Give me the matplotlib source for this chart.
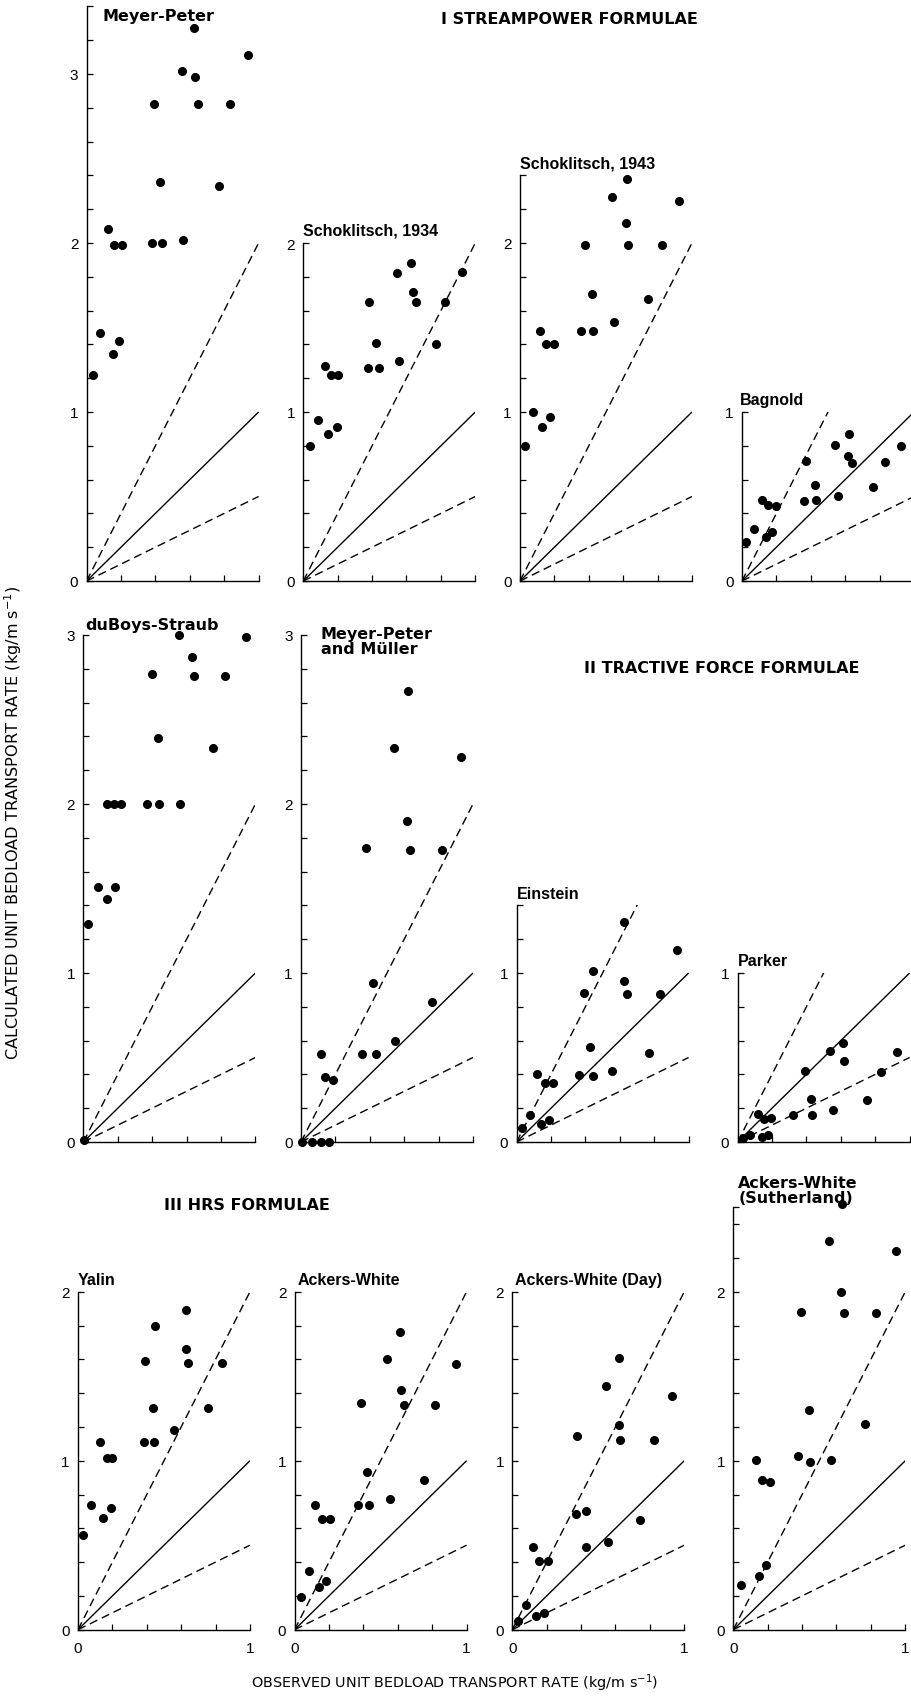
import numpy as np
import matplotlib
matplotlib.use("Agg")
import matplotlib.pyplot as plt

# ---------------- data ----------------
panel_titles = ["Meyer-Peter", "Schoklitsch, 1934", "Schoklitsch, 1943", "Bagnold",
                "duBoys-Straub", "Meyer-Peter\nand Müller", "Einstein", "Parker",
                "Yalin", "Ackers-White", "Ackers-White (Day)", "Ackers-White\n(Sutherland)"]
panel_ymax = [3.4, 2.0, 2.4, 1.0, 3.0, 3.0, 1.4, 1.0, 2.0, 2.0, 2.0, 2.5]
ytick_label_values = [0, 1, 2, 3]
xtick_values = [0, 0.2, 0.4, 0.6, 0.8, 1.0]
xtick_labels = ["0", "", "", "", "", "1"]
section_titles = ["I STREAMPOWER FORMULAE", "II TRACTIVE FORCE FORMULAE", "III HRS FORMULAE"]
ylabel_text = "CALCULATED UNIT BEDLOAD TRANSPORT RATE (kg/m s$^{-1}$)"
xlabel_text = "OBSERVED UNIT BEDLOAD TRANSPORT RATE (kg/m s$^{-1}$)"
agreement_line = [0.0, 1.0]       # y = x
upper_band_line = [0.0, 2.0]      # y = 2x
lower_band_line = [0.0, 0.5]      # y = x/2
line_x = [0.0, 1.0]

meyer_peter_x = [0.037, 0.078, 0.126, 0.156, 0.160, 0.187, 0.208, 0.383, 0.393, 0.428,
                 0.436, 0.556, 0.558, 0.626, 0.628, 0.648, 0.770, 0.835, 0.940]
meyer_peter_y = [1.22, 1.47, 2.08, 1.345, 1.99, 1.42, 1.99, 2.00, 2.82, 2.36,
                 2.00, 3.02, 2.02, 3.27, 2.98, 2.82, 2.34, 2.82, 3.11]

schok34_x = [0.039, 0.087, 0.143, 0.126, 0.162, 0.200, 0.195, 0.375, 0.383, 0.424,
             0.441, 0.544, 0.557, 0.625, 0.640, 0.658, 0.770, 0.826, 0.923]
schok34_y = [0.80, 0.95, 0.87, 1.27, 1.22, 1.22, 0.91, 1.26, 1.65, 1.41,
             1.26, 1.82, 1.30, 1.88, 1.71, 1.65, 1.40, 1.65, 1.83]

schok43_x = [0.027, 0.076, 0.118, 0.127, 0.154, 0.173, 0.200, 0.354, 0.378, 0.416,
             0.422, 0.536, 0.544, 0.614, 0.624, 0.627, 0.745, 0.823, 0.922]
schok43_y = [0.80, 1.00, 1.48, 0.91, 1.40, 0.97, 1.40, 1.48, 1.99, 1.70,
             1.48, 2.27, 1.53, 2.12, 2.38, 1.99, 1.67, 1.99, 2.25]

bagnold_x = [0.023, 0.067, 0.117, 0.138, 0.153, 0.172, 0.197, 0.363, 0.371, 0.423,
             0.432, 0.541, 0.558, 0.616, 0.625, 0.640, 0.759, 0.830, 0.925]
bagnold_y = [0.232, 0.307, 0.482, 0.260, 0.450, 0.288, 0.444, 0.474, 0.710, 0.570,
             0.482, 0.806, 0.502, 0.742, 0.867, 0.698, 0.556, 0.704, 0.800]

duboys_x = [0.005, 0.029, 0.083, 0.136, 0.138, 0.177, 0.181, 0.217, 0.367, 0.400,
            0.431, 0.441, 0.553, 0.563, 0.629, 0.645, 0.751, 0.821, 0.944]
duboys_y = [0.01, 1.29, 1.51, 2.00, 1.44, 2.00, 1.51, 2.00, 2.00, 2.77,
            2.39, 2.00, 3.00, 2.00, 2.87, 2.76, 2.33, 2.76, 2.99]

mpm_x = [0.006, 0.065, 0.114, 0.162, 0.114, 0.142, 0.187, 0.355, 0.377, 0.416,
         0.436, 0.542, 0.546, 0.615, 0.621, 0.631, 0.761, 0.822, 0.931]
mpm_y = [0.0, 0.0, 0.0, 0.0, 0.52, 0.383, 0.368, 0.52, 1.74, 0.94,
         0.52, 2.33, 0.60, 1.90, 2.67, 1.73, 0.83, 1.73, 2.28]

einstein_x = [0.029, 0.076, 0.118, 0.143, 0.164, 0.190, 0.210, 0.364, 0.390, 0.425,
              0.446, 0.446, 0.554, 0.625, 0.627, 0.640, 0.771, 0.832, 0.933]
einstein_y = [0.084, 0.157, 0.402, 0.108, 0.347, 0.133, 0.347, 0.398, 0.880, 0.560,
              1.010, 0.392, 0.418, 1.300, 0.950, 0.873, 0.524, 0.878, 1.137]

parker_x = [0.029, 0.074, 0.118, 0.139, 0.152, 0.175, 0.196, 0.324, 0.389, 0.429,
            0.432, 0.539, 0.552, 0.613, 0.617, 0.754, 0.832, 0.928]
parker_y = [0.024, 0.042, 0.165, 0.032, 0.135, 0.042, 0.143, 0.157, 0.421, 0.256,
            0.161, 0.540, 0.190, 0.583, 0.480, 0.250, 0.415, 0.530]

yalin_x = [0.027, 0.078, 0.127, 0.148, 0.170, 0.189, 0.199, 0.383, 0.389, 0.4375,
           0.440, 0.445, 0.560, 0.629, 0.629, 0.637, 0.756, 0.838]
yalin_y = [0.56, 0.737, 1.11, 0.66, 1.016, 0.723, 1.016, 1.11, 1.59, 1.31,
           1.11, 1.80, 1.18, 1.89, 1.66, 1.58, 1.31, 1.58]

ackers_x = [0.037, 0.081, 0.119, 0.142, 0.162, 0.183, 0.208, 0.371, 0.388, 0.421,
            0.433, 0.540, 0.552, 0.613, 0.617, 0.637, 0.752, 0.819, 0.938]
ackers_y = [0.193, 0.350, 0.735, 0.252, 0.656, 0.288, 0.656, 0.735, 1.34, 0.935,
            0.735, 1.60, 0.775, 1.76, 1.42, 1.33, 0.887, 1.33, 1.575]

ackers_day_x = [0.034, 0.081, 0.123, 0.136, 0.155, 0.187, 0.206, 0.372, 0.377, 0.426,
                0.430, 0.547, 0.555, 0.619, 0.621, 0.625, 0.745, 0.823, 0.928]
ackers_day_y = [0.052, 0.148, 0.490, 0.082, 0.405, 0.100, 0.405, 0.685, 1.145, 0.705,
                0.490, 1.44, 0.520, 1.21, 1.61, 1.12, 0.652, 1.12, 1.38]

ackers_suth_x = [0.042, 0.133, 0.147, 0.164, 0.190, 0.213, 0.379, 0.396, 0.438, 0.444,
                 0.556, 0.570, 0.625, 0.634, 0.644, 0.766, 0.830, 0.945]
ackers_suth_y = [0.265, 1.006, 0.315, 0.887, 0.385, 0.875, 1.025, 1.88, 1.30, 0.995,
                 2.30, 1.003, 2.00, 2.52, 1.875, 1.218, 1.875, 2.24]

panel_x = [meyer_peter_x, schok34_x, schok43_x, bagnold_x, duboys_x, mpm_x,
           einstein_x, parker_x, yalin_x, ackers_x, ackers_day_x, ackers_suth_x]
panel_y = [meyer_peter_y, schok34_y, schok43_y, bagnold_y, duboys_y, mpm_y,
           einstein_y, parker_y, yalin_y, ackers_y, ackers_day_y, ackers_suth_y]

# ---------------- layout (pixels) ----------------
FIG_W, FIG_H = 912, 1699
X_UNIT, Y_UNIT = 172.0, 169.0
lefts = [86.6, 303.3, 520.0, 742.0, 83.4, 301.0, 516.6, 737.6, 78.0, 294.6, 512.3, 733.3]
bases = [582.0] * 4 + [1143.0] * 4 + [1630.7] * 4
bottom_row = [False] * 8 + [True] * 4

DV = "DejaVu Sans"
LB = ["Liberation Sans", "DejaVu Sans"]
# (dx, dy_above_top, va, family)
title_style = [(16, -9, "center", DV), (0, 8, "baseline", LB), (0, 8, "baseline", LB),
               (-2, 8, "baseline", LB), (2, 6, "baseline", DV), (20, 9, "top", DV),
               (0, 7, "baseline", LB), (0, 8, "baseline", LB), (0, 8, "baseline", LB),
               (3, 8, "baseline", LB), (3, 8, "baseline", LB), (5, 2, "bottom", DV)]

fig = plt.figure(figsize=(FIG_W / 100, FIG_H / 100), dpi=100)
fig.patch.set_facecolor("white")


def fx(px):
    return px / FIG_W


def fy(py):
    return 1 - py / FIG_H


dash = (0, (6, 3.5))
for i in range(12):
    ymax = panel_ymax[i]
    ax = fig.add_axes([fx(lefts[i]), fy(bases[i]), X_UNIT / FIG_W, ymax * Y_UNIT / FIG_H])
    ax.set_xlim(0, 1)
    ax.set_ylim(0, ymax)
    ax.patch.set_visible(False)
    for s in ["top", "right"]:
        ax.spines[s].set_visible(False)
    for s in ["left", "bottom"]:
        ax.spines[s].set_linewidth(1.0)
        ax.spines[s].set_color("black")

    ax.plot(line_x, agreement_line, color="black", lw=1.0, solid_capstyle="butt")
    ax.plot(line_x, upper_band_line, color="black", lw=1.0, ls=dash)
    ax.plot(line_x, lower_band_line, color="black", lw=1.0, ls=dash)
    ax.plot(panel_x[i], panel_y[i], "o", color="black", ms=5.5, mec="black", clip_on=False)

    yt = [round(v, 2) for v in np.arange(0, ymax + 1e-9, 0.2)]
    if abs(yt[-1] - ymax) > 1e-6:
        yt.append(ymax)
    ax.set_yticks(yt)
    ax.set_yticklabels([str(int(round(v))) if (abs(v - round(v)) < 1e-9 and int(round(v)) in ytick_label_values) else ""
                        for v in yt])
    ax.set_xticks(xtick_values)
    if bottom_row[i]:
        ax.set_xticklabels(xtick_labels)
    else:
        ax.set_xticklabels([""] * len(xtick_values))
    ax.tick_params(axis="both", direction="in", length=4, width=0.9, colors="black", labelsize=11)
    ax.tick_params(axis="y", pad=6)
    ax.tick_params(axis="x", pad=8)
    for lab in ax.get_xticklabels() + ax.get_yticklabels():
        lab.set_family(LB)

    dx, dy, va, fam = title_style[i]
    top_px = bases[i] - ymax * Y_UNIT
    fig.text(fx(lefts[i] + dx), fy(top_px - dy), panel_titles[i], ha="left", va=va,
             fontsize=11.5, fontweight="bold", family=fam, linespacing=1.0)

# section headers
sec_pos = [(569, 19.5), (722, 668.5), (247, 1206)]
for t, (px, py) in zip(section_titles, sec_pos):
    fig.text(fx(px), fy(py), t, ha="center", va="center", fontsize=11.5,
             fontweight="bold", family=DV)

fig.text(fx(13), fy(823), ylabel_text, rotation=90, ha="center", va="center",
         fontsize=11.6, family=DV)
fig.text(fx(455), fy(1683), xlabel_text, ha="center", va="center",
         fontsize=10.4, family=DV)

fig.savefig("out.png", dpi=100, facecolor="white")
